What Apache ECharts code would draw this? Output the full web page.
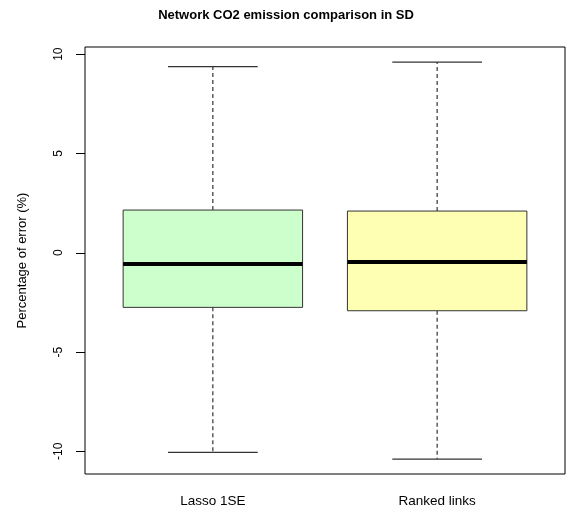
<!DOCTYPE html>
<html>
<head>
<meta charset="utf-8">
<script src="https://cdn.jsdelivr.net/npm/echarts@6/dist/echarts.min.js"></script>
<style>html,body{margin:0;padding:0;background:#fff;}#main{width:566px;height:515px;}</style>
</head>
<body>
<div id="main"></div>
<script>
// Data
const categories = ['Lasso 1SE', 'Ranked links'];
const lowerWhisker = [-10.05, -10.39];
const q1 = [-2.75, -2.92];
const median = [-0.57, -0.46];
const q3 = [2.15, 2.10];
const upperWhisker = [9.37, 9.60];
const yTicks = [-10, -5, 0, 5, 10];
const xPositions = [1, 2];

const fills = ['#CCFFCC', '#FFFFB3'];
const font = 'Liberation Sans, Arial, sans-serif';

const data = categories.map((c, i) => [xPositions[i], lowerWhisker[i], q1[i], median[i], q3[i], upperWhisker[i]]);

const chart = echarts.init(document.getElementById('main'), null, {renderer: 'canvas'});
chart.setOption({
  backgroundColor: '#fff',
  animation: false,
  title: {
    text: 'Network CO2 emission comparison in SD',
    left: 281,
    textAlign: 'center',
    top: 4,
    textStyle: {fontFamily: font, fontSize: 13, fontWeight: 'bold', color: '#000'}
  },
  grid: {left: 85, right: 1, top: 47, bottom: 41, show: true, borderColor: '#000', borderWidth: 1, backgroundColor: 'transparent'},
  xAxis: {
    type: 'value', min: 0.43, max: 2.57,
    axisLine: {show: false},
    splitLine: {show: false},
    axisTick: {show: true, customValues: xPositions, length: 9, lineStyle: {color: '#000'}},
    axisLabel: {
      customValues: xPositions,
      formatter: v => categories[Math.round(v) - 1] || '',
      fontFamily: font, fontSize: 13.5, color: '#000', margin: 20
    }
  },
  yAxis: {
    type: 'value', min: -11.14, max: 10.36,
    name: 'Percentage of error (%)', nameLocation: 'middle', nameGap: 56,
    nameTextStyle: {fontFamily: font, fontSize: 13, color: '#000'},
    axisLine: {show: false},
    splitLine: {show: false},
    axisTick: {show: true, customValues: yTicks, length: 9, lineStyle: {color: '#000'}},
    axisLabel: {customValues: yTicks, rotate: 90, fontFamily: font, fontSize: 12, color: '#000', margin: 20}
  },
  series: [{
    type: 'custom',
    data: data,
    encode: {x: 0, y: [1, 2, 3, 4, 5]},
    clip: false,
    renderItem: function (params, api) {
      const x = api.value(0);
      const pLow = api.coord([x, api.value(1)]);
      const pQ1 = api.coord([x, api.value(2)]);
      const pMed = api.coord([x, api.value(3)]);
      const pQ3 = api.coord([x, api.value(4)]);
      const pHigh = api.coord([x, api.value(5)]);
      const half = api.size([0.8, 0])[0] / 2;
      const capHalf = api.size([0.4, 0])[0] / 2;
      const cx = pMed[0];
      const dash = {stroke: '#333', lineWidth: 1.2, lineDash: [4, 3]};
      const solid = {stroke: '#333', lineWidth: 1.2};
      return {
        type: 'group',
        children: [
          {type: 'line', shape: {x1: cx, y1: pQ3[1], x2: cx, y2: pHigh[1]}, style: dash},
          {type: 'line', shape: {x1: cx, y1: pQ1[1], x2: cx, y2: pLow[1]}, style: dash},
          {type: 'line', shape: {x1: cx - capHalf, y1: pHigh[1], x2: cx + capHalf, y2: pHigh[1]}, style: solid},
          {type: 'line', shape: {x1: cx - capHalf, y1: pLow[1], x2: cx + capHalf, y2: pLow[1]}, style: solid},
          {type: 'rect', shape: {x: cx - half, y: pQ3[1], width: 2 * half, height: pQ1[1] - pQ3[1]},
            style: {fill: fills[params.dataIndex], stroke: '#333', lineWidth: 1}},
          {type: 'line', shape: {x1: cx - half, y1: pMed[1], x2: cx + half, y2: pMed[1]},
            style: {stroke: '#000', lineWidth: 4}}
        ]
      };
    }
  }]
});
</script>
</body>
</html>
